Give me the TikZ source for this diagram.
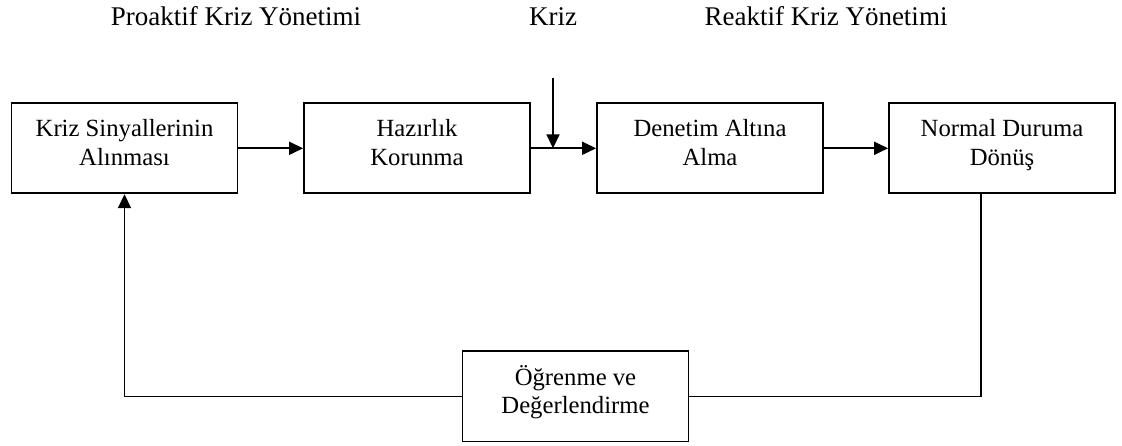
\documentclass[tikz,border=0pt]{standalone}
\usepackage{fontspec}
\setmainfont{Liberation Serif}
\usetikzlibrary{arrows.meta,calc}
\newcommand\topst{\rule{0pt}{19pt}}
\newcommand\botst{\rule[-14pt]{0pt}{14pt}}
\begin{document}
\begin{tikzpicture}[x=1pt,y=-1pt,
  every node/.style={font=\fontsize{24.7}{28.5}\selectfont},
  boxnode/.style={draw,line width=1.8pt,minimum width=226pt,minimum height=90pt,inner sep=0pt,align=center},
  conn/.style={line width=1.8pt},
  arr/.style={conn,-{Triangle[length=14pt,width=13pt]}},
  title/.style={inner sep=0pt,anchor=base,font=\fontsize{27}{31}\selectfont}]
\useasboundingbox (0,0) rectangle (1122,446);
\node[boxnode] (b1) at (124.5,148.3) {\topst Kriz Sinyallerinin\\\botst Alınması};
\node[boxnode] (b2) at (417,148.3) {\topst Hazırlık\\\botst Korunma};
\node[boxnode] (b3) at (710,148.3) {\topst Denetim Altına\\\botst Alma};
\node[boxnode] (b4) at (1002,148.3) {\topst Normal Duruma\\\botst Dönüş};
\node[boxnode] (b5) at (575.5,396.4) {\topst Öğrenme ve\\\botst Değerlendirme};
\node[title] (t1) at (236,25.5) {Proaktif Kriz Yönetimi};
\node[title] (t2) at (553,25.5) {Kriz};
\node[title] (t3) at (826,25.5) {Reaktif Kriz Yönetimi};
\coordinate (ktop) at (553,78);
\coordinate (kend) at (553,148.3);
\coordinate (fb) at (981,396.4);
\draw[arr] (b1.east) -- (b2.west);
\draw[arr] (b2.east) -- (b3.west);
\draw[arr] (b3.east) -- (b4.west);
\draw[arr] (ktop) -- (kend);
\draw[conn] (b4.south -| fb) |- (b5.east);
\draw[arr] (b5.west) -| (b1.south);
\end{tikzpicture}
\end{document}
